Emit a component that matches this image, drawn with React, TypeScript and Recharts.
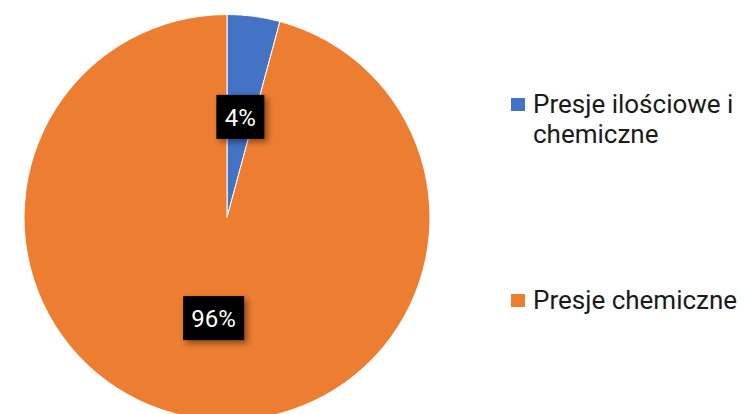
import { PieChart, Pie, Cell, Legend } from 'recharts';

const categories = ['Presje ilościowe i chemiczne', 'Presje chemiczne'];
const shares = [4.2, 95.8];
const colors = ['#4472C4', '#ED7D31'];

const data = categories.map((name, i) => ({ name, value: shares[i] }));

const RADIAN = Math.PI / 180;

function BoxLabel(props: any) {
  const { cx, cy, midAngle, outerRadius, percent } = props;
  const r = outerRadius * 0.5;
  const x = cx + r * Math.cos(-midAngle * RADIAN);
  const y = cy + r * Math.sin(-midAngle * RADIAN);
  const text = `${Math.round(percent * 100)}%`;
  const w = text.length * 13 + 22;
  const h = 44;
  return (
    <g>
      <rect x={x - w / 2} y={y - h / 2} width={w} height={h} fill="#000" filter="url(#lblShadow)" />
      <text x={x} y={y + 1} fill="#fff" fontSize={24} fontFamily="Roboto, sans-serif" textAnchor="middle" dominantBaseline="central">
        {text}
      </text>
    </g>
  );
}

function LegendBox() {
  return (
    <div style={{ fontFamily: 'Roboto, sans-serif', fontSize: 26, color: '#1a1a1a', lineHeight: '30px' }}>
      {data.map((d, i) => (
        <div key={d.name} style={{ display: 'flex', alignItems: 'flex-start', marginBottom: i === 0 ? 136 : 0 }}>
          <span style={{ width: 14, height: 13, background: colors[i], marginTop: 9, marginRight: 8, flex: 'none' }} />
          <span style={{ width: 215, whiteSpace: 'normal' }}>{d.name}</span>
        </div>
      ))}
    </div>
  );
}

export default function App() {
  return (
    <div style={{ position: 'absolute', left: 0, top: 0, width: 744, height: 414, background: '#fff', overflow: 'hidden' }}>
      <PieChart width={744} height={414} margin={{ top: 0, right: 0, bottom: 0, left: 0 }}>
        <defs>
          <filter id="lblShadow" x="-30%" y="-30%" width="170%" height="170%">
            <feDropShadow dx="3" dy="3" stdDeviation="3" floodColor="#000" floodOpacity="0.45" />
          </filter>
        </defs>
        <Pie
          data={data}
          dataKey="value"
          nameKey="name"
          cx={227}
          cy={217.5}
          outerRadius={203}
          startAngle={90}
          endAngle={-270}
          stroke="#fff"
          strokeWidth={1}
          label={BoxLabel}
          labelLine={false}
          isAnimationActive={false}
        >
          {data.map((d, i) => (
            <Cell key={d.name} fill={colors[i]} />
          ))}
        </Pie>
        <Legend content={<LegendBox />} layout="vertical" wrapperStyle={{ position: 'absolute', left: 511, top: 89, width: 233 }} />
      </PieChart>
    </div>
  );
}
